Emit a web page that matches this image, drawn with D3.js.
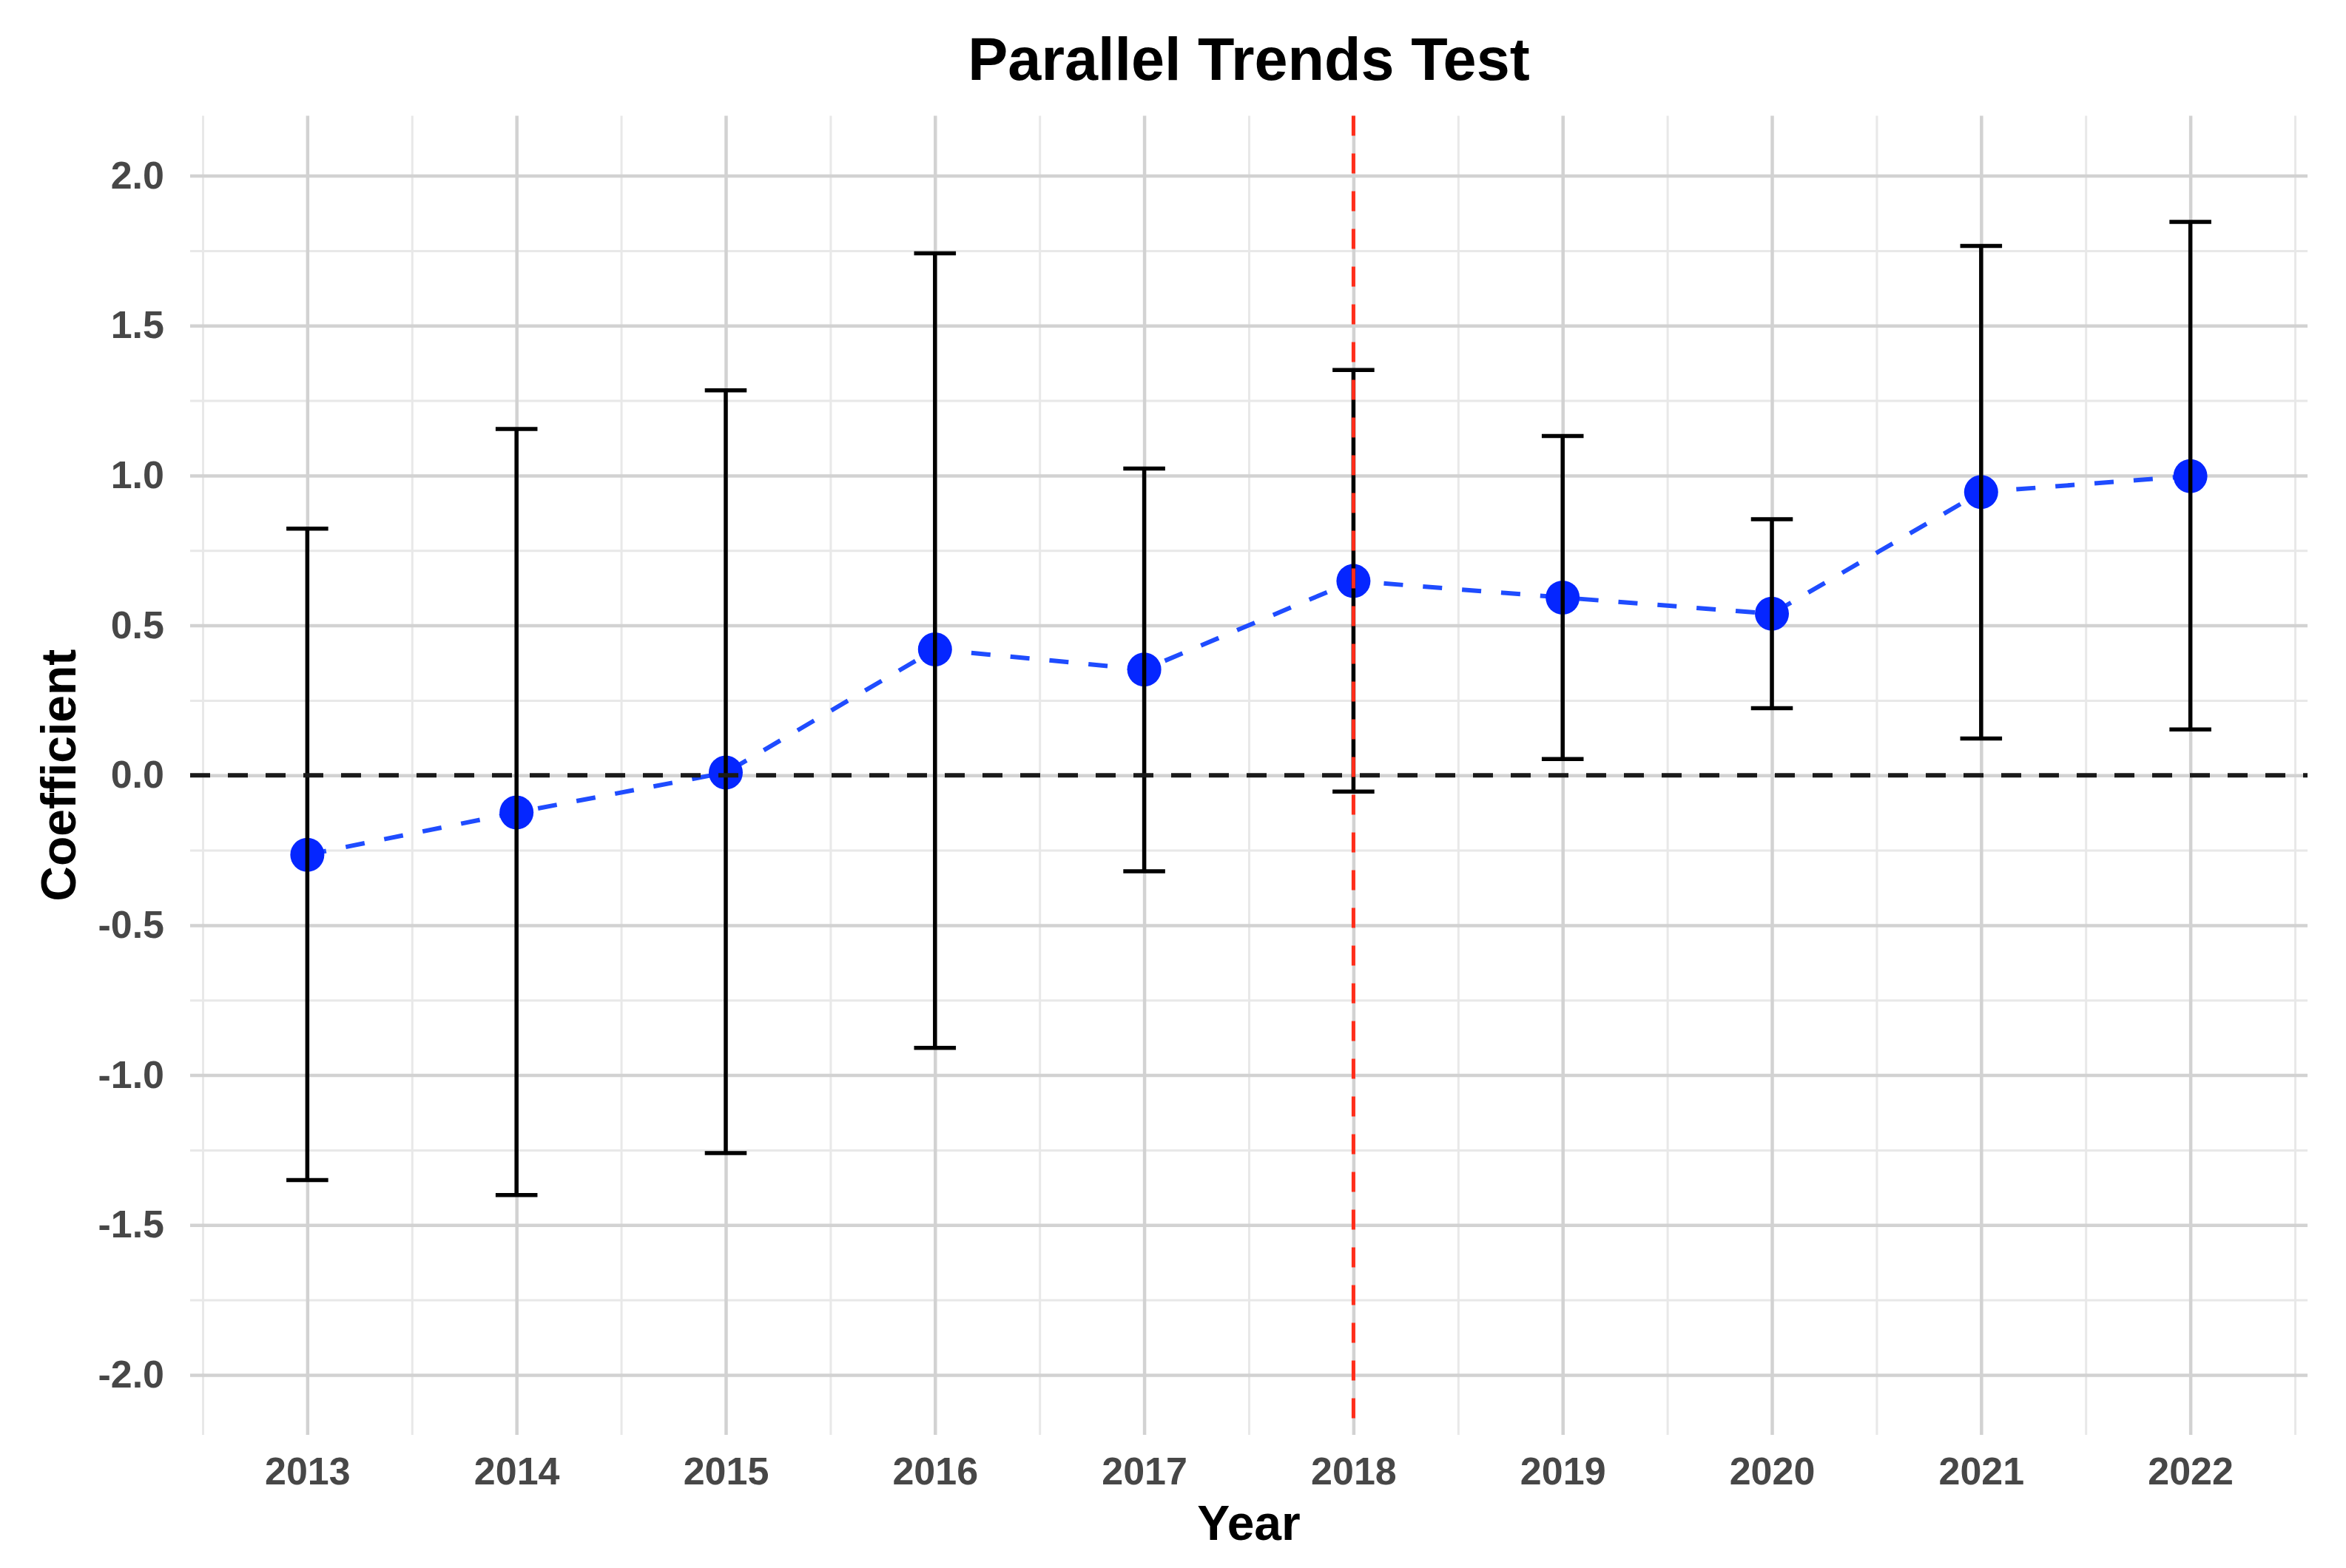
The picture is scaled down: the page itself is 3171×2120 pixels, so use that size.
<!DOCTYPE html>
<html>
<head>
<meta charset="utf-8">
<script src="https://cdn.jsdelivr.net/npm/d3@7"></script>
<style>
  html, body { margin: 0; padding: 0; background: #ffffff; }
  svg { display: block; }
  text { font-family: "Liberation Sans", Arial, Helvetica, sans-serif; font-weight: bold; }
</style>
</head>
<body>
<script>
// ---- data ----
const years = [2013, 2014, 2015, 2016, 2017, 2018, 2019, 2020, 2021, 2022];
const coef  = [-0.265, -0.124, 0.009, 0.420, 0.353, 0.648, 0.593, 0.539, 0.945, 0.998];
const upper = [0.823, 1.155, 1.284, 1.741, 1.023, 1.352, 1.132, 0.854, 1.766, 1.846];
const lower = [-1.350, -1.400, -1.260, -0.909, -0.320, -0.054, 0.054, 0.224, 0.123, 0.153];
const yTicks = [-2.0, -1.5, -1.0, -0.5, 0.0, 0.5, 1.0, 1.5, 2.0];
const yMinor = [-1.75, -1.25, -0.75, -0.25, 0.25, 0.75, 1.25, 1.75];
const xMinor = [2012.5, 2013.5, 2014.5, 2015.5, 2016.5, 2017.5, 2018.5, 2019.5, 2020.5, 2021.5, 2022.5];
const treatmentYear = 2018;
const titleText = "Parallel Trends Test";
const xTitle = "Year";
const yTitle = "Coefficient";

// ---- layout ----
const W = 3171, H = 2120;
const panel = { left: 257, right: 3119, top: 156.5, bottom: 1940 };

const svg = d3.select("body").append("svg")
  .attr("width", W).attr("height", H)
  .attr("viewBox", `0 0 ${W} ${H}`);
svg.append("rect").attr("width", W).attr("height", H).attr("fill", "#ffffff");

const x = d3.scaleLinear().domain([2012.44, 2022.56]).range([panel.left, panel.right]);
const y = d3.scaleLinear().domain([-2.2, 2.2]).range([panel.bottom, panel.top]);
const pw = panel.right - panel.left, ph = panel.bottom - panel.top;

// ---- gridlines ----
function grid(g, axis, color, width) {
  g.call(axis);
  g.select(".domain").remove();
  g.selectAll(".tick line").attr("stroke", color).attr("stroke-width", width);
  g.selectAll(".tick text").remove();
}
svg.append("g").attr("transform", `translate(0,${panel.bottom})`)
  .call(g => grid(g, d3.axisBottom(x).tickValues(xMinor).tickSize(-ph).tickFormat(""), "#e8e8e8", 3));
svg.append("g").attr("transform", `translate(${panel.left},0)`)
  .call(g => grid(g, d3.axisLeft(y).tickValues(yMinor).tickSize(-pw).tickFormat(""), "#e8e8e8", 3));
svg.append("g").attr("transform", `translate(0,${panel.bottom})`)
  .call(g => grid(g, d3.axisBottom(x).tickValues(years).tickSize(-ph).tickFormat(""), "#d2d2d2", 4.5));
svg.append("g").attr("transform", `translate(${panel.left},0)`)
  .call(g => grid(g, d3.axisLeft(y).tickValues(yTicks).tickSize(-pw).tickFormat(""), "#d2d2d2", 4.5));

// ---- axis labels ----
const yAx = svg.append("g").attr("transform", `translate(${panel.left},0)`)
  .call(d3.axisLeft(y).tickValues(yTicks).tickSize(0).tickPadding(35).tickFormat(d => d.toFixed(1)));
yAx.select(".domain").remove();
yAx.selectAll("text").attr("font-size", 52).attr("fill", "#474747")
  .attr("font-family", "'Liberation Sans', Arial, sans-serif").attr("font-weight", "bold");

const xAx = svg.append("g").attr("transform", `translate(0,${panel.bottom})`)
  .call(d3.axisBottom(x).tickValues(years).tickSize(0).tickPadding(30).tickFormat(d3.format("d")));
xAx.select(".domain").remove();
xAx.selectAll("text").attr("font-size", 52).attr("fill", "#474747")
  .attr("font-family", "'Liberation Sans', Arial, sans-serif").attr("font-weight", "bold");

// ---- data marks ----
const data = years.map((yr, i) => ({ yr, c: coef[i], hi: upper[i], lo: lower[i] }));

// dashed blue connecting line
svg.append("path").datum(data)
  .attr("fill", "none").attr("stroke", "#1f4cff").attr("stroke-width", 6)
  .attr("stroke-dasharray", "26 27")
  .attr("d", d3.line().x(d => x(d.yr)).y(d => y(d.c)));

// points
svg.append("g").selectAll("circle").data(data).join("circle")
  .attr("cx", d => x(d.yr)).attr("cy", d => y(d.c)).attr("r", 23)
  .attr("fill", "#0526ff");

// error bars
const capHalf = 0.1;
const eb = svg.append("g").attr("stroke", "#000000").attr("stroke-width", 5.5).attr("fill", "none");
eb.selectAll("path").data(data).join("path")
  .attr("d", d => {
    const xl = x(d.yr - capHalf), xr = x(d.yr + capHalf), xc = x(d.yr);
    return `M${xl},${y(d.hi)}H${xr}M${xc},${y(d.hi)}V${y(d.lo)}M${xl},${y(d.lo)}H${xr}`;
  });

// horizontal reference line at 0
svg.append("line")
  .attr("x1", panel.left).attr("x2", panel.right)
  .attr("y1", y(0)).attr("y2", y(0))
  .attr("stroke", "#1a1a1a").attr("stroke-width", 6).attr("stroke-dasharray", "27 24");

// vertical treatment line
svg.append("line")
  .attr("x1", x(treatmentYear)).attr("x2", x(treatmentYear))
  .attr("y1", panel.top).attr("y2", panel.bottom)
  .attr("stroke", "#ff2d1a").attr("stroke-width", 5).attr("stroke-dasharray", "27 24");

// ---- titles ----
svg.append("text").text(titleText)
  .attr("x", (panel.left + panel.right) / 2).attr("y", 108)
  .attr("text-anchor", "middle").attr("font-size", 81).attr("fill", "#000000");

svg.append("text").text(xTitle)
  .attr("x", (panel.left + panel.right) / 2).attr("y", 2082)
  .attr("text-anchor", "middle").attr("font-size", 66).attr("fill", "#000000");

svg.append("text").text(yTitle)
  .attr("transform", `translate(102,${y(0)}) rotate(-90)`)
  .attr("text-anchor", "middle").attr("font-size", 66).attr("fill", "#000000");
</script>
</body>
</html>
